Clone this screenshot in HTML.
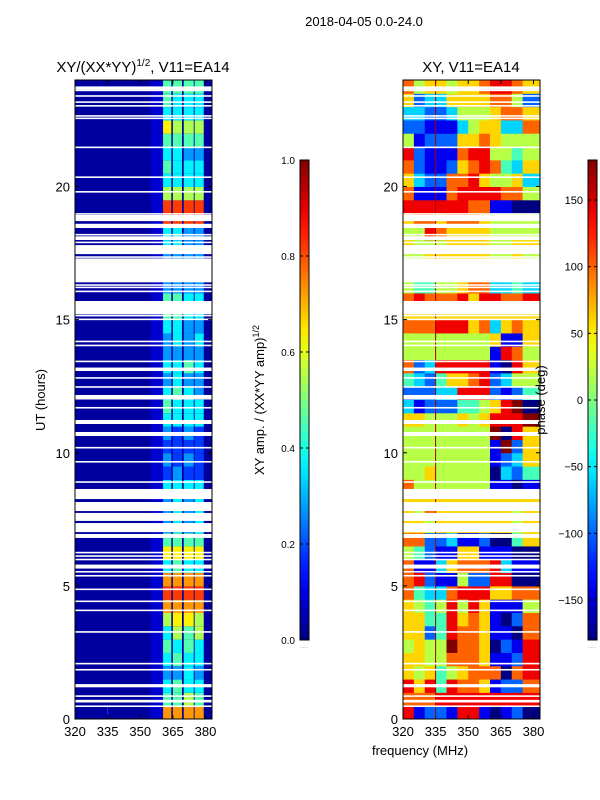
<!DOCTYPE html>
<html><head><meta charset="utf-8">
<style>
body{margin:0;background:#fff;width:600px;height:800px;overflow:hidden}
svg{display:block;font-family:"Liberation Sans",sans-serif}
</style></head>
<body>
<svg id="fig" width="600" height="800" viewBox="0 0 600 800">
<text x="364" y="26" font-size="13" text-anchor="middle">2018-04-05 0.0-24.0</text>
<text x="143" y="72" font-size="15" text-anchor="middle">XY/(XX*YY)<tspan font-size="10" dy="-6">1/2</tspan><tspan dy="6">, V11=EA14</tspan></text>
<text x="471" y="72" font-size="15" text-anchor="middle">XY, V11=EA14</text>
<text transform="translate(45,400) rotate(-90)" font-size="13" text-anchor="middle">UT (hours)</text>
<text x="420" y="755" font-size="13" text-anchor="middle">frequency (MHz)</text>
<text transform="translate(264,400) rotate(-90)" font-size="13" text-anchor="middle">XY amp. / (XX*YY amp)<tspan font-size="9" dy="-5">1/2</tspan></text>
<g id="left"></g>
<g id="right"></g>
<g id="cb"></g>
<text transform="translate(545,400) rotate(-90)" font-size="13" text-anchor="middle">phase (deg)</text>
</svg>
<script>
// ---- data ----
const timeRowsStart = [0,0.5,1,1.5,2,2.5,3,3.5,4,4.5,5,5.5,6,6.5,7,7.5,8,8.5,9,9.5,10,10.5,11,11.5,12,12.5,13,13.5,14,14.5,15,15.5,16,16.5,17,17.5,18,18.5,19,19.5,20,20.5,21,21.5,22,22.5,23,23.5];
const ampBandFreqs = [[360.5,364.3],[365,369.2],[370,374.6],[375,379.2]];
const ampBackground = 0.03;
// amplitude per row (0h upward), one digit per band, value = digit/11
const ampRows = ["8888","5565","4544","3343","4544","5454","4656","6776","8888","9999","8888","4544","7777","5555","3434","3434","3434","4444","2322","3232","2222","3232","4444","5444","4543","3433","4454","3333","3434","4433","5544","5544","3333","3333","3333","4433","4433","9999","9999","6666","4444","5444","4433","5555","7666","4444","5444","5555"];
const phaseColFreqs = [320,325,330,335,340,345,350,355,360,365,370,375,383];
// phase per row (0h upward), digit/9 maps -180..180
const phaseRows = ["812218810120","777888888888","868487761227","656456777078","665577761128","565597760218","662487761107","664486761027","654585861115","743378886677","782115228800","711367778311","542116611100","772231120046","665666666656","657666666656","666666666666","755555551101","556555550324","555555551236","555555551926","555555559086","665556568889","312224456890","222338882124","432466782355","723888881086","555555551875","555555556116","777888673676","666666666666","787778688778","544556773343","556666665565","556666665565","655566665566","558766665555","677677765555","888888771100","711178888775","632277865563","721126787436","821117885545","512226676555","221113566337","332235556776","623366667752","756656678876"];
// flagged (blank) time intervals, hours
const gapIntervals = [[0.45,0.51],[0.62,0.72],[0.83,0.89],[1.19,1.31],[1.82,1.88],[2.05,2.11],[3.24,3.30],[4.05,4.11],[4.39,4.45],[4.84,4.90],[5.35,5.41],[5.50,5.56],[5.65,5.80],[5.96,6.02],[6.09,6.15],[6.22,6.28],[6.80,6.95],[7.02,7.36],[7.44,7.74],[7.81,8.15],[8.26,8.64],[8.87,8.93],[9.63,9.69],[10.16,10.22],[10.63,10.78],[11.08,11.23],[11.66,11.72],[12.0,12.17],[12.44,12.50],[12.78,12.84],[13.07,13.20],[13.40,13.46],[14.0,14.06],[14.15,14.21],[14.98,15.04],[15.12,15.18],[15.2,15.7],[16.03,16.09],[16.18,16.24],[16.27,16.33],[16.40,16.46],[16.45,17.3],[17.32,17.38],[17.46,17.8],[17.87,17.93],[17.99,18.13],[18.16,18.22],[18.44,18.6],[18.7,18.93],[18.94,19.0],[19.77,19.83],[20.32,20.38],[21.44,21.50],[22.53,22.59],[22.62,22.68],[23.0,23.06],[23.14,23.20],[23.37,23.43],[23.58,23.64],[23.64,23.76]];
const yTicks = [0,5,10,15,20];
const xTicks = [320,335,350,365,380];
const ampCbTicks = [0.0,0.2,0.4,0.6,0.8,1.0];
const phaseCbTicks = [-150,-100,-50,0,50,100,150];

// ---- axes ----
const NS="http://www.w3.org/2000/svg";
const Y0=719, Y1=80, F0=320, F1=383;
const yS = h => Y0 - (h/24)*(Y0-Y1);
function xS(x0,x1){ return f => x0 + (f-F0)/(F1-F0)*(x1-x0); }
function jet(v){v=Math.max(0,Math.min(1,v));const c=t=>Math.round(255*Math.max(0,Math.min(1,1.5-Math.abs(4*v-t))));return `rgb(${c(3)},${c(2)},${c(1)})`;}
function el(tag,attrs,parent){const e=document.createElementNS(NS,tag);for(const k in attrs)e.setAttribute(k,attrs[k]);parent.appendChild(e);return e;}

function panel(g,x0,x1,drawRow){
  const xs=xS(x0,x1);
  timeRowsStart.forEach((t,i)=>drawRow(g,xs,t,i));
  gapIntervals.forEach(gp=>{
    const r=el('rect',{x:x0,y:yS(gp[1]),width:x1-x0,height:Math.max(1.2,yS(gp[0])-yS(gp[1])),fill:'#fff'},g);
    
    
  });
  const fr=el('rect',{x:x0,y:Y1,width:x1-x0,height:Y0-Y1,fill:'none',stroke:'#000','stroke-width':1},g);
  
  
  yTicks.forEach(v=>{
    const y=yS(v);
    el('line',{x1:x0,x2:x0+4,y1:y,y2:y,stroke:'#000'},g);
    el('line',{x1:x1,x2:x1-4,y1:y,y2:y,stroke:'#000'},g);
    const t=el('text',{x:x0-5,y:y+5,'font-size':13,'text-anchor':'end'},g);
    t.textContent=v;
    
    
  });
  xTicks.forEach(v=>{
    const x=xs(v);
    el('line',{x1:x,x2:x,y1:Y0,y2:Y0-4,stroke:'#000'},g);
    el('line',{x1:x,x2:x,y1:Y1,y2:Y1+4,stroke:'#000'},g);
    const t=el('text',{x:x,y:Y0+17,'font-size':13,'text-anchor':'middle'},g);
    t.textContent=v;
    
    
  });
}
const rowH=(t)=>[yS(t+0.5),yS(t)-yS(t+0.5)+0.5];

panel(document.getElementById('left'),75,212,(g,xs,t,i)=>{
  const [y,h]=rowH(t);
  el('rect',{x:75,y:y,width:137,height:h,fill:jet(ampBackground)},g);
  el('rect',{x:xs(355),y:y,width:xs(360.5)-xs(355),height:h,fill:jet(ampBackground+0.05)},g);
  ampBandFreqs.forEach((b,j)=>{
    const c=el('rect',{x:xs(b[0]),y:y,width:xs(b[1])-xs(b[0]),height:h,fill:jet(+ampRows[i][j]/11)},g);
    
    
  });
  if(i===0) el('line',{x1:xs(335),x2:xs(335),y1:Y1,y2:Y0,stroke:'#1030ff','stroke-width':1},g);
});
panel(document.getElementById('right'),403,540,(g,xs,t,i)=>{
  const [y,h]=rowH(t);
  for(let j=0;j<phaseColFreqs.length-1;j++){
    const c=el('rect',{x:xs(phaseColFreqs[j]),y:y,width:xs(phaseColFreqs[j+1])-xs(phaseColFreqs[j])+0.5,height:h,fill:jet(+phaseRows[i][j]/9)},g);
    
    
  }
});
(function(){const g=document.getElementById('right');const xs=xS(403,540);
 const l=el('line',{x1:xs(335),x2:xs(335),y1:Y1,y2:Y0,stroke:'#a00000','stroke-width':1},g);
 
 
 gapIntervals.forEach(gp=>el('rect',{x:xs(334),y:yS(gp[1]),width:xs(336)-xs(334),height:Math.max(1.2,yS(gp[0])-yS(gp[1])),fill:'#fff'},g));
 el('rect',{x:403,y:Y1,width:137,height:Y0-Y1,fill:'none',stroke:'#000'},g);
})();

(function(){
  const g=document.getElementById('cb');
  const defs=el('defs',{},g);
  const lg=el('linearGradient',{id:'jetg',x1:0,y1:1,x2:0,y2:0},defs);
  for(let k=0;k<=20;k++)el('stop',{offset:k/20,'stop-color':jet(k/20)},lg);
  function bar(x,lo,hi,ticks,name){
    const b=el('rect',{x:x,y:160,width:9,height:480,fill:'url(#jetg)',stroke:'#000'},g);
    
    
    ticks.forEach(v=>{
      const y=640-(v-lo)/(hi-lo)*480;
      el('line',{x1:x,x2:x+3,y1:y,y2:y,stroke:'#000'},g);
      el('line',{x1:x+9,x2:x+6,y1:y,y2:y,stroke:'#000'},g);
      const t=el('text',{x:x-5,y:y+4,'font-size':ticks.length>6?11:10,'text-anchor':'end'},g);
      t.textContent=(lo===0)?v.toFixed(1):(v<0?'\u2212'+(-v):v);
      
      
    });
    el('text',{x:x+4,y:648,'font-size':5,'text-anchor':'middle',fill:'#888'},g).textContent='......';
  }
  bar(300,0,1,ampCbTicks,'amp-colorbar');
  bar(588,-180,180,phaseCbTicks,'phase-colorbar');
})();
</script>
</body></html>
